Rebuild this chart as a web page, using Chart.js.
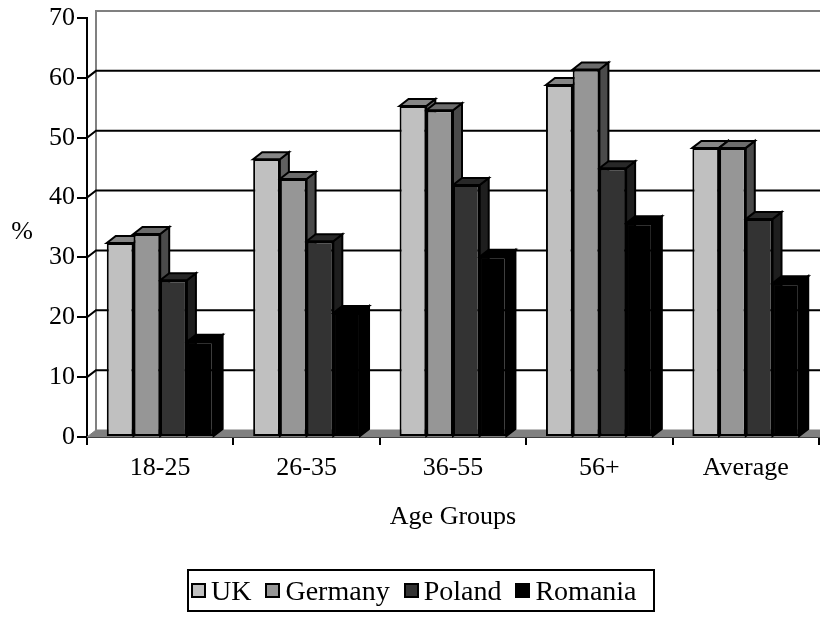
<!DOCTYPE html>
<html>
<head>
<meta charset="utf-8">
<title>Age Groups</title>
<script src="https://cdn.jsdelivr.net/npm/chart.js@4/dist/chart.umd.min.js"></script>
<style>
  html, body { margin: 0; padding: 0; background: #fff; }
  #wrap { position: relative; width: 820px; height: 617px; }
  #chart { display: block; }
  .legend {
    position: absolute; left: 187px; top: 569px; width: 468px; height: 43px;
    border: 2px solid #000; box-sizing: border-box; padding-left: 2px;
    display: flex; align-items: center; justify-content: flex-start; gap: 14px;
    font-family: "Liberation Serif", "Times New Roman", serif; font-size: 28px; color: #000;
  }
  .legend-item { display: flex; align-items: center; gap: 5px; }
  .legend-swatch { width: 15px; height: 15px; border: 2px solid #000; box-sizing: border-box; }
</style>
</head>
<body>
<div id="wrap">
  <canvas id="chart" width="820" height="617"></canvas>
  <div class="legend" id="legend"></div>
</div>
<script>
const AGE_GROUPS = ['18-25', '26-35', '36-55', '56+', 'Average'];
const UK_VALUES      = [32.4, 46.4, 55.3, 58.8, 48.3];
const GERMANY_VALUES = [33.9, 43.1, 54.6, 61.4, 48.3];
const POLAND_VALUES  = [26.2, 32.7, 42.1, 44.9, 36.4];
const ROMANIA_VALUES = [15.9, 20.7, 30.1, 35.7, 25.7];
const Y_TICKS = [0, 10, 20, 30, 40, 50, 60, 70];

const SERIES = [
  { label: 'UK',      data: UK_VALUES,      front: '#c0c0c0', top: '#868686', side: '#606060' },
  { label: 'Germany', data: GERMANY_VALUES, front: '#969696', top: '#6c6c6c', side: '#4a4a4a' },
  { label: 'Poland',  data: POLAND_VALUES,  front: '#333333', top: '#282828', side: '#1e1e1e' },
  { label: 'Romania', data: ROMANIA_VALUES, front: '#000000', top: '#000000', side: '#000000' },
];

// depth of the fake 3D: back plane shifted right and up
const DX = 9;
const DY = -7;
const FONT = "'Liberation Serif', 'Times New Roman', serif";

function poly(ctx, pts, fill) {
  ctx.beginPath();
  ctx.moveTo(pts[0][0], pts[0][1]);
  for (let i = 1; i < pts.length; i++) ctx.lineTo(pts[i][0], pts[i][1]);
  ctx.closePath();
  if (fill) { ctx.fillStyle = fill; ctx.fill(); }
  ctx.stroke();
}

// walls, floor, back gridlines and the top/side faces of the columns
const depthPlugin = {
  id: 'depth',
  beforeDatasetsDraw(chart) {
    const { ctx, chartArea: a, scales: { y } } = chart;
    const y0 = y.getPixelForValue(0);
    ctx.save();
    ctx.lineJoin = 'miter';

    // floor
    ctx.strokeStyle = '#808080';
    ctx.lineWidth = 1;
    poly(ctx, [[a.left, y0], [a.right + DX, y0], [a.right + DX, y0 + DY], [a.left + DX, y0 + DY]], '#808080');

    // back wall outline
    ctx.strokeStyle = '#808080';
    ctx.lineWidth = 2;
    ctx.beginPath();
    ctx.moveTo(a.left + DX, y0 + DY);
    ctx.lineTo(a.left + DX, y.getPixelForValue(70) + DY);
    ctx.lineTo(a.right + DX, y.getPixelForValue(70) + DY);
    ctx.stroke();

    // gridlines on back and side wall
    ctx.strokeStyle = '#000';
    ctx.lineWidth = 2;
    Y_TICKS.filter(v => v > 0 && v < 70).forEach(v => {
      const py = y.getPixelForValue(v);
      ctx.beginPath();
      ctx.moveTo(a.left, py);
      ctx.lineTo(a.left + DX, py + DY);
      ctx.lineTo(a.right + DX, py + DY);
      ctx.stroke();
    });

    // column tops and sides, series order so later bars overlap earlier ones
    ctx.lineWidth = 2;
    ctx.strokeStyle = '#000';
    SERIES.forEach((s, di) => {
      chart.getDatasetMeta(di).data.forEach(el => {
        const { x, y: top, base, width } = el.getProps(['x', 'y', 'base', 'width'], true);
        const l = x - width / 2;
        const r = x + width / 2;
        poly(ctx, [[r, top], [r + DX, top + DY], [r + DX, base + DY], [r, base]], s.side);
        poly(ctx, [[l, top], [l + DX, top + DY], [r + DX, top + DY], [r, top]], s.top);
      });
    });
    ctx.restore();
  },
  afterDraw(chart) {
    const { ctx } = chart;
    ctx.save();
    ctx.font = `26px ${FONT}`;
    ctx.fillStyle = '#000';
    ctx.textAlign = 'center';
    ctx.textBaseline = 'middle';
    ctx.fillText('%', 22, 232);
    ctx.restore();
  },
};

function renderLegend() {
  document.getElementById('legend').innerHTML = SERIES.map(s => `
    <div class="legend-item">
      <span class="legend-swatch" style="background:${s.front}"></span>
      <span>${s.label}</span>
    </div>`).join('');
}

const ctx = document.getElementById('chart').getContext('2d');
new Chart(ctx, {
  type: 'bar',
  data: {
    labels: AGE_GROUPS,
    datasets: SERIES.map(s => ({
      label:              s.label,
      data:               s.data,
      backgroundColor:    s.front,
      borderColor:        '#000',
      borderWidth:        2,
      borderSkipped:      false,
      categoryPercentage: 0.73,
      barPercentage:      1.0,
    })),
  },
  options: {
    responsive: false,
    animation:  false,
    layout: { padding: { top: 18, right: 1, left: 0, bottom: 0 } },
    plugins: {
      legend:  { display: false },
      tooltip: { enabled: false },
    },
    scales: {
      x: {
        grid:   { display: true, drawOnChartArea: false, offset: true, tickLength: 8, color: '#000', lineWidth: 2 },
        border: { display: true, color: '#000', width: 2 },
        ticks:  { color: '#000', font: { family: FONT, size: 26 }, padding: 8, maxRotation: 0 },
        title:  { display: true, text: 'Age Groups', color: '#000', font: { family: FONT, size: 26 }, padding: { top: 0, bottom: 84 } },
        afterFit: (s) => { s.height = 180; },
      },
      y: {
        min: 0,
        max: 70,
        grid:   { display: true, drawOnChartArea: false, tickLength: 10, color: '#000', lineWidth: 2 },
        border: { display: true, color: '#000', width: 2 },
        ticks:  { stepSize: 10, color: '#000', font: { family: FONT, size: 26 }, padding: 2 },
        afterFit: (s) => { s.width = 87; },
      },
    },
  },
  plugins: [depthPlugin],
});

renderLegend();
</script>
</body>
</html>
